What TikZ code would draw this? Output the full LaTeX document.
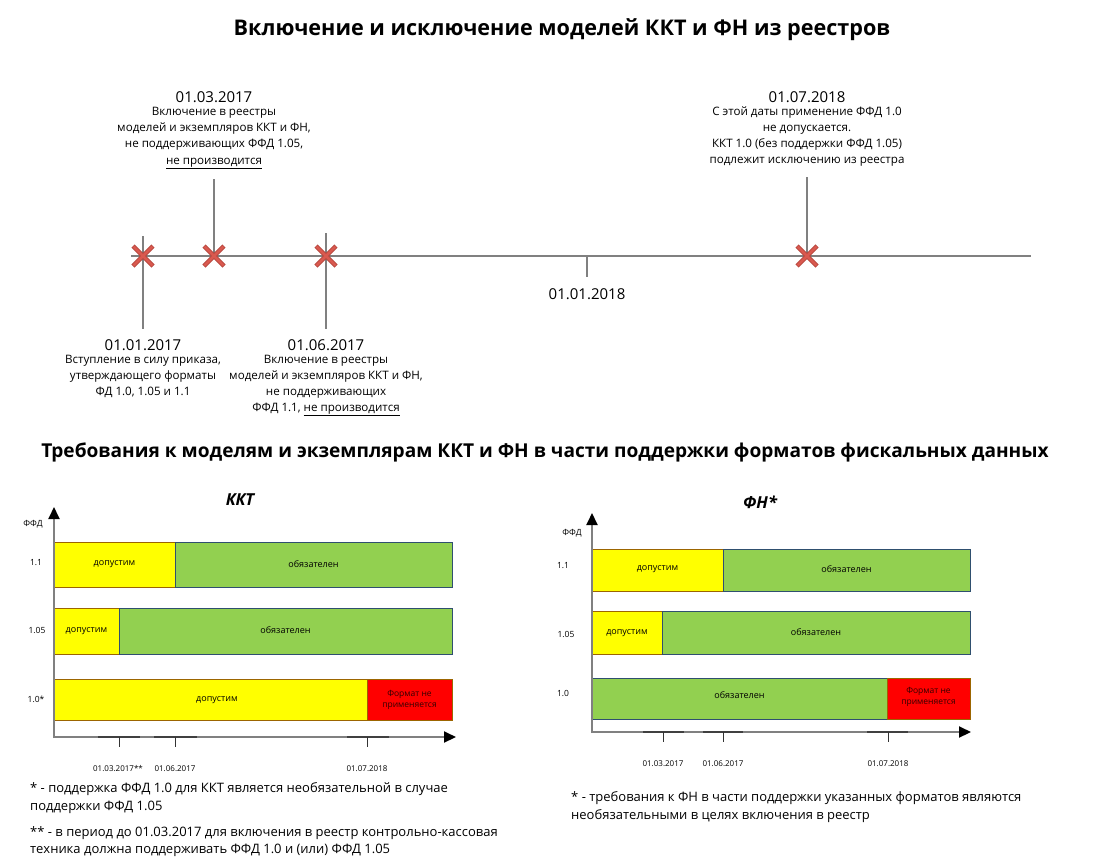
\documentclass[tikz,border=0pt]{standalone}
\usepackage{fontspec}
\setmainfont{Open Sans}
\usetikzlibrary{arrows.meta}
\definecolor{ylw}{HTML}{FFFF00}
\definecolor{grn}{HTML}{92D050}
\definecolor{rd}{HTML}{FF0000}
\definecolor{crossred}{HTML}{D9594F}
\definecolor{crossdark}{HTML}{B5443B}
\definecolor{axgray}{HTML}{808080}
\definecolor{ybord}{HTML}{9C6500}
\definecolor{gbord}{HTML}{2F4F6F}
\tikzset{
  ttl/.style={font=\fontsize{#1}{#1}\selectfont\bfseries, text=black},
  date/.style={font=\fontsize{15}{16}\selectfont, inner sep=0pt},
  desc/.style={font=\fontsize{11.6}{16}\selectfont, align=center, inner sep=0pt},
  conn/.style={draw=axgray, line width=1.1pt},
  crossline/.style={line width=4.4pt, crossdark},
  crossin/.style={line width=2.6pt, crossred},
  yb/.style={fill=ylw, draw=ybord, line width=0.8pt},
  gb/.style={fill=grn, draw=gbord, line width=0.8pt},
  rb/.style={fill=rd, draw=ybord, line width=0.8pt},
  bartext/.style={font=\fontsize{9}{10}\selectfont, inner sep=0pt},
  redtext/.style={font=\fontsize{8.5}{11}\selectfont, inner sep=0pt, align=center, text=black!80!red},
  ylab/.style={font=\fontsize{8.5}{10}\selectfont, inner sep=0pt},
  ticklab/.style={font=\fontsize{8}{10}\selectfont, inner sep=0pt},
  axis/.style={draw=axgray, line width=2pt, -{Triangle[length=12pt,width=11pt,color=black]}},
  tickdark/.style={draw=black!75, line width=1.3pt},
  tick/.style={draw=black!80, line width=1pt},
  foot/.style={font=\fontsize{13}{18}\selectfont, inner sep=0pt, anchor=west},
}
\begin{document}
\begin{tikzpicture}[x=1pt,y=-1pt]
\useasboundingbox[fill=white] (0,0) rectangle (1094,865);

% ---------- Title 1 ----------
\node[ttl=21.6] (title1) at (562,30) {Включение и исключение моделей ККТ и ФН из реестров};

% ---------- Timeline ----------
\coordinate (tlS) at (131,256);
\coordinate (tlE) at (1031,256);
\draw[conn] (tlS) -- (tlE);

% vertical connectors
\coordinate (v1a) at (143,236); \coordinate (v1b) at (143,329);
\coordinate (v2a) at (214,179); \coordinate (v2b) at (214,256);
\coordinate (v3a) at (326,233); \coordinate (v3b) at (326,329);
\coordinate (v4a) at (587,256); \coordinate (v4b) at (587,277);
\coordinate (v5a) at (807,177); \coordinate (v5b) at (807,256);
\draw[conn] (v1a) -- (v1b);
\draw[conn] (v2a) -- (v2b);
\draw[conn] (v3a) -- (v3b);
\draw[conn] (v4a) -- (v4b);
\draw[conn] (v5a) -- (v5b);

% crosses
\foreach \cx in {143,214,326,807}{
  \draw[crossline] (\cx-10,246) -- (\cx+10,266) (\cx-10,266) -- (\cx+10,246);
  \draw[crossin] (\cx-9.5,246.5) -- (\cx+9.5,265.5) (\cx-9.5,265.5) -- (\cx+9.5,246.5);
}

% labels above
\node[date] (d2) at (214,97) {01.03.2017};
\node[desc, anchor=north] (t2) at (214,107) {Включение в реестры\\моделей и экземпляров ККТ и ФН,\\не поддерживающих ФФД 1.05,\\[1pt]\underline{не производится}};
\node[date] (d5) at (807,97) {01.07.2018};
\node[desc, anchor=north] (t5) at (807,107) {С этой даты применение ФФД 1.0\\не допускается.\\ККТ 1.0 (без поддержки ФФД 1.05)\\подлежит исключению из реестра};

% labels below
\node[date] (d1) at (143,345) {01.01.2017};
\node[desc, anchor=north] (t1) at (143,355) {Вступление в силу приказа,\\утверждающего форматы\\ФД 1.0, 1.05 и 1.1};
\node[date] (d3) at (326,345) {01.06.2017};
\node[desc, anchor=north] (t3) at (326,355) {Включение в реестры\\моделей и экземпляров ККТ и ФН,\\не поддерживающих\\ФФД 1.1, \underline{не производится}};
\node[date] (d4) at (587,294) {01.01.2018};

% ---------- Title 2 ----------
\node[ttl=19.1] (title2) at (545,452) {Требования к моделям и экземплярам ККТ и ФН в части поддержки форматов фискальных данных};

% ---------- Left chart: KKT ----------
\node[font=\fontsize{16.5}{18}\selectfont\bfseries\itshape] (kkt) at (240,500) {ККТ};
\coordinate (L0) at (54,738);
\coordinate (Ly) at (54,507);
\coordinate (Lx) at (456,737);

% bars
\draw[yb] (54,542) rectangle (175,587);
\draw[gb] (175,542) rectangle (452,587);
\draw[yb] (54,608) rectangle (119,654);
\draw[gb] (119,608) rectangle (452,654);
\draw[yb] (54,679) rectangle (367,720);
\draw[rb] (367,679) rectangle (452,720);
\node[bartext] (L11a) at (114.5,564) {допустим};
\node[bartext] (L11b) at (313.5,564) {обязателен};
\node[bartext] (L105a) at (86.5,631) {допустим};
\node[bartext] (L105b) at (285.5,630) {обязателен};
\node[bartext] (L10a) at (217,700) {допустим};
\node[redtext] (L10b) at (409.5,699.5) {Формат не\\применяется};

\draw[axis] (L0) -- (Ly);
\draw[axis] (54,737) -- (Lx);
\node[ylab] (Lffd) at (33,524) {ФФД};
\node[ylab] (Ly11) at (36,563) {1.1};
\node[ylab] (Ly105) at (37,630) {1.05};
\node[ylab] (Ly10) at (36,699) {1.0*};

\draw[tickdark] (98,737) -- (140,737);
\draw[tickdark] (154,737) -- (197,737);
\draw[tickdark] (347,737) -- (389,737);
\draw[tick] (119,737) -- (119,747);
\draw[tick] (175,737) -- (175,747);
\draw[tick] (367,737) -- (367,747);
\node[ticklab] (Lt1) at (118,769) {01.03.2017**};
\node[ticklab] (Lt2) at (175,769) {01.06.2017};
\node[ticklab] (Lt3) at (367,769) {01.07.2018};

\node[foot] (Lf1) at (30,789) {* - поддержка ФФД 1.0 для ККТ является необязательной в случае};
\node[foot] (Lf2) at (30,807) {поддержки ФФД 1.05};
\node[foot] (Lf3) at (30,833) {** - в период до 01.03.2017 для включения в реестр контрольно-кассовая};
\node[foot] (Lf4) at (30,850) {техника должна поддерживать ФФД 1.0 и (или) ФФД 1.05};

% ---------- Right chart: FN ----------
\node[font=\fontsize{16.5}{18}\selectfont\bfseries\itshape] (fn) at (760,502) {ФН*};
\coordinate (R0) at (592,733);
\coordinate (Ry) at (592,513);
\coordinate (Rx) at (971,732);

\draw[yb] (592,549) rectangle (723,591);
\draw[gb] (723,549) rectangle (970,591);
\draw[yb] (592,611) rectangle (662,654);
\draw[gb] (662,611) rectangle (970,654);
\draw[gb] (592,678) rectangle (887,719);
\draw[rb] (887,678) rectangle (970,719);
\node[bartext] (R11a) at (657.5,569) {допустим};
\node[bartext] (R11b) at (846.5,569) {обязателен};
\node[bartext] (R105a) at (627,633) {допустим};
\node[bartext] (R105b) at (816,632) {обязателен};
\node[bartext] (R10a) at (739.5,695) {обязателен};
\node[redtext] (R10b) at (928.5,697) {Формат не\\применяется};

\draw[axis] (R0) -- (Ry);
\draw[axis] (592,732) -- (Rx);
\node[ylab] (Rffd) at (572,533) {ФФД};
\node[ylab] (Ry11) at (563,566) {1.1};
\node[ylab] (Ry105) at (566,634) {1.05};
\node[ylab] (Ry10) at (563,693) {1.0};

\draw[tickdark] (643,732) -- (684,732);
\draw[tickdark] (703,732) -- (743,732);
\draw[tickdark] (867,732) -- (908,732);
\draw[tick] (663,732) -- (663,742);
\draw[tick] (723,732) -- (723,742);
\draw[tick] (888,732) -- (888,742);
\node[ticklab] (Rt1) at (663,764) {01.03.2017};
\node[ticklab] (Rt2) at (723,764) {01.06.2017};
\node[ticklab] (Rt3) at (888,764) {01.07.2018};

\node[foot] (Rf1) at (571,798) {* - требования к ФН в части поддержки указанных форматов являются};
\node[foot] (Rf2) at (571,816) {необязательными в целях включения в реестр};
\end{tikzpicture}
\end{document}
